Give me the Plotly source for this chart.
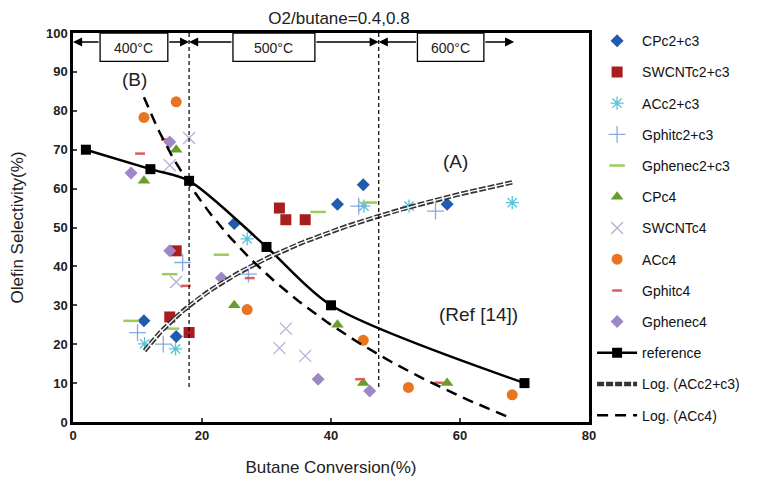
import numpy as np
import plotly.graph_objects as go

# ---------------- data ----------------
cp23_x = [11, 16, 25, 41, 45, 58]
cp23_y = [26, 22, 51, 56, 61, 56]
sw23_x = [15, 16, 18, 32, 33, 36]
sw23_y = [27, 44, 23, 55, 52, 52]
ac23_x = [11.1, 15.9, 27, 45.1, 52.1, 68.1]
ac23_y = [20.1, 18.8, 47.1, 55.5, 55.5, 56.4]
gpi23_x = [10, 14, 17, 27.2, 44.3, 56.2]
gpi23_y = [23, 20, 41, 38, 55.5, 54.2]
gpe23_x = [9, 15, 15.3, 23, 38, 46]
gpe23_y = [26, 38, 24, 43, 54, 56.4]
cp4_x = [11, 16, 25, 41, 45, 58]
cp4_y = [62, 70, 30, 25, 10, 10]
sw4_x = [18, 15, 16, 32, 33, 36]
sw4_y = [73, 66, 36, 19, 24, 17]
ac4_x = [11, 16, 27, 45, 52, 68.1]
ac4_y = [78.3, 82.3, 28.9, 21, 8.9, 7]
gpi4_x = [10.4, 14.4, 17.5, 27.4, 44.5, 56.7]
gpi4_y = [69, 72.6, 35, 37, 11, 10.1]
gpe4_x = [9, 15, 15, 23, 38, 46]
gpe4_y = [64, 72, 44, 37, 11, 8]
ref_x = [2, 12, 18, 30, 40, 70]
ref_y = [70, 65, 62, 45, 30, 10]

temp_labels = ["400°C", "500°C", "600°C"]
temp_bounds = [0, 18, 47.4, 68.4]

x_ticks = [0, 20, 40, 60, 80]
y_ticks = [0, 10, 20, 30, 40, 50, 60, 70, 80, 90, 100]

# ---------------- log trendlines (least squares on ln x, like Excel) ----------------
def log_trend(xs, ys):
    a, b = np.polyfit(np.log(xs), ys, 1)
    xx = np.linspace(min(xs), max(xs), 120)
    return xx, a * np.log(xx) + b

t1x, t1y = log_trend(ac23_x, ac23_y)
t2x, t2y = log_trend(ac4_x, ac4_y)

fig = go.Figure()

def pts(name, xs, ys, symbol, color, size=10, lw=1.5):
    fig.add_trace(go.Scatter(
        x=xs, y=ys, mode="markers", name=name, legendgroup=name,
        marker=dict(symbol=symbol, color=color, size=size,
                    line=dict(color=color, width=lw)),
    ))

pts("CPc2+c3", cp23_x, cp23_y, "diamond", "#1F5BAE", 10, 0)
pts("SWCNTc2+c3", sw23_x, sw23_y, "square", "#A81E1E", 11, 0)
pts("ACc2+c3", ac23_x, ac23_y, "asterisk-open", "#55C3DA", 11, 1.3)
pts("Gphitc2+c3", gpi23_x, gpi23_y, "cross-thin-open", "#86A9DE", 12, 1.3)
pts("Gphenec2+c3", gpe23_x, gpe23_y, "line-ew-open", "#9CCB5E", 11, 2.5)
pts("CPc4", cp4_x, cp4_y, "triangle-up", "#689E27", 11, 0)
pts("SWCNTc4", sw4_x, sw4_y, "x-thin-open", "#B8AED6", 12, 1.3)
pts("ACc4", ac4_x, ac4_y, "circle", "#E8751F", 11, 0)
pts("Gphitc4", gpi4_x, gpi4_y, "line-ew-open", "#E25A5A", 7, 2.5)
pts("Gphenec4", gpe4_x, gpe4_y, "diamond", "#9C88C6", 10, 0)

fig.add_trace(go.Scatter(
    x=ref_x, y=ref_y, mode="lines+markers", name="reference", legendgroup="reference",
    line=dict(color="black", width=2.5, shape="spline", smoothing=0.8),
    marker=dict(symbol="square", color="black", size=10),
))
fig.add_trace(go.Scatter(
    x=t1x, y=t1y, mode="lines", name="Log. (ACc2+c3)", legendgroup="log1",
    line=dict(color="#333333", width=4.5, dash="7px,2px"),
))
fig.add_trace(go.Scatter(
    x=t1x, y=t1y, mode="lines", name="Log. (ACc2+c3)", legendgroup="log1",
    showlegend=False, hoverinfo="skip",
    line=dict(color="white", width=1.3),
))
fig.add_trace(go.Scatter(
    x=t2x, y=t2y, mode="lines", name="Log. (ACc4)", legendgroup="log2",
    line=dict(color="black", width=2.5, dash="11px,7px"),
))

shapes = []
annotations = []
for xv in temp_bounds[1:3]:
    shapes.append(dict(type="line", x0=xv, x1=xv, y0=9, y1=100, xref="x", yref="y",
                       line=dict(color="black", width=1.2, dash="4px,3px")))
box_edges = [(4.2, 14.7), (24.8, 37.5), (53.4, 63.7)]
row_y = 97.7
for i, (lab, (b0, b1)) in enumerate(zip(temp_labels, box_edges)):
    shapes.append(dict(type="rect", x0=b0, x1=b1, y0=92.7, y1=100, xref="x", yref="y",
                       line=dict(color="black", width=1.3), fillcolor="white"))
    annotations.append(dict(x=(b0 + b1) / 2, y=96.2, xref="x", yref="y", text=lab,
                            showarrow=False, font=dict(size=14, color="#222")))
    left_end = temp_bounds[i]
    right_end = temp_bounds[i + 1]
    for tip, tail in ((left_end, b0), (right_end, b1)):
        annotations.append(dict(x=tip, y=row_y, ax=tail, ay=row_y, xref="x", yref="y",
                                axref="x", ayref="y", text="", showarrow=True,
                                arrowhead=2, arrowsize=1.3, arrowwidth=1.4, arrowcolor="black",
                                standoff=0, startstandoff=0))

for txt, xv, yv in [("(B)", 9.6, 88), ("(A)", 59.3, 67), ("(Ref [14])", 62.9, 27.6)]:
    annotations.append(dict(x=xv, y=yv, xref="x", yref="y", text=txt, showarrow=False,
                            font=dict(size=19, color="#222")))

fig.update_layout(
    width=768, height=484,
    margin=dict(l=65, r=187, t=25, b=70, autoexpand=False),
    paper_bgcolor="white", plot_bgcolor="white",
    font=dict(family="Arial, Liberation Sans, sans-serif", color="#222"),
    title=dict(text="O2/butane=0.4,0.8", x=0.431, xanchor="center", y=0.979, yanchor="middle",
               font=dict(size=17, color="#222")),
    showlegend=True,
    legend=dict(x=1.006, xanchor="left", y=1.02, yanchor="top",
                font=dict(size=14, color="#111"), tracegroupgap=10,
                bgcolor="rgba(0,0,0,0)", itemwidth=40, maxheight=480),
    shapes=shapes, annotations=annotations,
)
fig.update_xaxes(range=[0, 80], tickvals=x_ticks, ticks="inside", ticklen=4, tickwidth=2,
                 showline=True, linewidth=2.5, linecolor="black", mirror=True,
                 showgrid=False, zeroline=False, automargin=False,
                 tickfont=dict(size=13, color="#222", weight="bold"),
                 title=dict(text="Butane Conversion(%)", font=dict(size=17, color="#222"), standoff=19))
fig.update_yaxes(range=[0, 100], tickvals=y_ticks, ticks="inside", ticklen=4, tickwidth=2,
                 showline=True, linewidth=2.5, linecolor="black", mirror=True,
                 showgrid=False, zeroline=False, automargin=False,
                 tickfont=dict(size=13, color="#222", weight="bold"),
                 title=dict(text="Olefin Selectivity(%)", font=dict(size=17, color="#222"), standoff=18))

fig.write_html("out.html")
